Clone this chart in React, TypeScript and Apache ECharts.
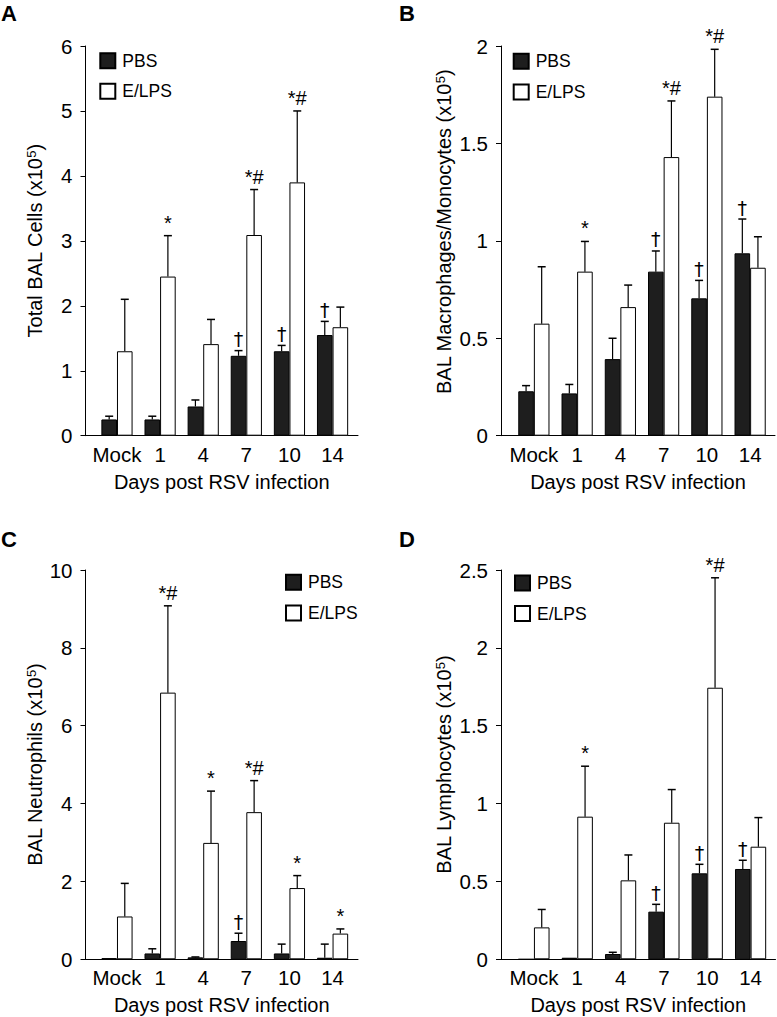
import React, { useEffect, useRef } from "react";
import * as echarts from "echarts";

// ---------- data ----------
const categories = ["Mock", "1", "4", "7", "10", "14"];
const seriesNames = ["PBS", "E/LPS"];

// A: Total BAL cells (x10^5)
const totalPBS = [0.25, 0.25, 0.45, 1.23, 1.3, 1.55];
const totalPBSErr = [0.05, 0.05, 0.1, 0.08, 0.09, 0.21];
const totalELPS = [1.3, 2.45, 1.41, 3.09, 3.9, 1.67];
const totalELPSErr = [0.8, 0.63, 0.38, 0.7, 1.1, 0.31];
const totalPBSMarks = ["", "", "", "†", "†", "†"];
const totalELPSMarks = ["", "*", "", "*#", "*#", ""];

// B: Macrophages / Monocytes (x10^5)
const macPBS = [0.228, 0.217, 0.393, 0.842, 0.705, 0.936];
const macPBSErr = [0.029, 0.046, 0.107, 0.106, 0.092, 0.176];
const macELPS = [0.575, 0.842, 0.66, 1.43, 1.74, 0.862];
const macELPSErr = [0.292, 0.155, 0.113, 0.288, 0.243, 0.159];
const macPBSMarks = ["", "", "", "†", "†", "†"];
const macELPSMarks = ["", "*", "", "*#", "*#", ""];

// C: Neutrophils (x10^5)
const neuPBS = [0.03, 0.15, 0.05, 0.47, 0.15, 0.04];
const neuPBSErr = [0, 0.12, 0.01, 0.2, 0.24, 0.35];
const neuELPS = [1.1, 6.85, 2.99, 3.78, 1.83, 0.66];
const neuELPSErr = [0.85, 2.23, 1.33, 0.81, 0.32, 0.12];
const neuPBSMarks = ["", "", "", "†", "", ""];
const neuELPSMarks = ["", "*#", "*", "*#", "*", "*"];

// D: Lymphocytes (x10^5)
const lymPBS = [0, 0.01, 0.034, 0.306, 0.552, 0.58];
const lymPBSErr = [0, 0, 0.011, 0.047, 0.058, 0.056];
const lymELPS = [0.205, 0.916, 0.507, 0.877, 1.744, 0.723];
const lymELPSErr = [0.115, 0.324, 0.163, 0.213, 0.706, 0.187];
const lymPBSMarks = ["", "", "", "†", "†", "†"];
const lymELPSMarks = ["", "*", "", "", "*#", ""];

// y-axis ticks
const totalTicks = { max: 6, interval: 1 };
const macTicks = { max: 2, interval: 0.5 };
const neuTicks = { max: 10, interval: 2 };
const lymTicks = { max: 2.5, interval: 0.5 };

const xTitle = "Days post RSV infection";

// ---------- layout / style ----------
const FONT = "'Liberation Sans', Arial, Helvetica, sans-serif";
const DAGGER_FONT = "'DejaVu Sans', 'Liberation Sans', sans-serif";
const BAR_W = 15.6;
const AXIS_FS = 20.5;
const NAME_FS = 20;

const panels = [
  {
    letter: "A", letterPos: [1, 14],
    pbs: totalPBS, pbsErr: totalPBSErr, elps: totalELPS, elpsErr: totalELPSErr,
    pbsMarks: totalPBSMarks, elpsMarks: totalELPSMarks,
    yName: "Total BAL Cells", ticks: totalTicks,
    grid: { left: 85.5, top: 46, width: 272.5, height: 389.7 },
    xMin: -0.73, xMax: 5.59, nameGap: 41, namePad: 0,
    legend: { left: 99.3, top: 51.7 },
  },
  {
    letter: "B", letterPos: [399, 14],
    pbs: macPBS, pbsErr: macPBSErr, elps: macELPS, elpsErr: macELPSErr,
    pbsMarks: macPBSMarks, elpsMarks: macELPSMarks,
    yName: "BAL Macrophages/Monocytes", ticks: macTicks,
    grid: { left: 501, top: 46, width: 274, height: 389.7 },
    xMin: -0.76, xMax: 5.575, nameGap: 47, namePad: 18,
    legend: { left: 512.7, top: 52.3 },
  },
  {
    letter: "C", letterPos: [1, 540],
    pbs: neuPBS, pbsErr: neuPBSErr, elps: neuELPS, elpsErr: neuELPSErr,
    pbsMarks: neuPBSMarks, elpsMarks: neuELPSMarks,
    yName: "BAL Neutrophils", ticks: neuTicks,
    grid: { left: 85.5, top: 570, width: 272.5, height: 389.3 },
    xMin: -0.73, xMax: 5.59, nameGap: 41, namePad: 0,
    legend: { left: 285, top: 573.3 },
  },
  {
    letter: "D", letterPos: [399, 540],
    pbs: lymPBS, pbsErr: lymPBSErr, elps: lymELPS, elpsErr: lymELPSErr,
    pbsMarks: lymPBSMarks, elpsMarks: lymELPSMarks,
    yName: "BAL Lymphocytes", ticks: lymTicks,
    grid: { left: 501, top: 570, width: 274.5, height: 389.3 },
    xMin: -0.76, xMax: 5.575, nameGap: 47, namePad: 0,
    legend: { left: 514, top: 574 },
  },
];

function errRenderer(errs: number[], marks: string[], offset: number) {
  return (params: any, api: any) => {
    const i = params.dataIndex;
    const x = api.value(0);
    const v = api.value(1);
    const e = errs[i];
    const base = api.coord([x, v]);
    const top = api.coord([x, v + e]);
    const cx = base[0] + offset;
    const children: any[] = [];
    if (e > 0) {
      children.push({
        type: "line",
        shape: { x1: cx, y1: base[1], x2: cx, y2: top[1] },
        style: { stroke: "#000", lineWidth: 1.2 },
      });
      children.push({
        type: "line",
        shape: { x1: cx - 4, y1: top[1], x2: cx + 4, y2: top[1] },
        style: { stroke: "#000", lineWidth: 1.5 },
      });
    }
    if (marks[i]) {
      const isDagger = marks[i] === "†";
      children.push({
        type: "text",
        x: cx,
        y: top[1] - (isDagger ? 2 : 3),
        style: {
          text: marks[i],
          fill: "#000",
          font: isDagger ? `19px ${DAGGER_FONT}` : `20px ${FONT}`,
          textAlign: "center",
          textVerticalAlign: "bottom",
        },
      });
    }
    return { type: "group", children };
  };
}

function buildOption() {
  const grid: any[] = [];
  const xAxis: any[] = [];
  const yAxis: any[] = [];
  const legend: any[] = [];
  const series: any[] = [];
  const graphic: any[] = [];

  panels.forEach((p, k) => {
    grid.push({ ...p.grid, containLabel: false });
    xAxis.push({
      type: "value",
      gridIndex: k,
      min: p.xMin,
      max: p.xMax,
      name: xTitle,
      nameLocation: "middle",
      nameGap: 36,
      nameTextStyle: { fontSize: NAME_FS, fontFamily: FONT, color: "#000" },
      axisLine: { show: true, onZero: false, lineStyle: { color: "#000", width: 1 } },
      axisTick: { show: false },
      splitLine: { show: false },
      axisLabel: {
        customValues: categories.map((_, i) => i),
        formatter: (v: number) => categories[Math.round(v)] ?? "",
        fontSize: AXIS_FS,
        fontFamily: FONT,
        color: "#000",
        margin: 8,
      },
    });
    yAxis.push({
      type: "value",
      gridIndex: k,
      min: 0,
      max: p.ticks.max,
      interval: p.ticks.interval,
      name: `${p.yName} (x10{sup|5})`,
      nameLocation: "middle",
      nameGap: p.nameGap,
      nameRotate: 90,
      nameTextStyle: {
        fontSize: NAME_FS,
        fontFamily: FONT,
        color: "#000",
        padding: [0, 0, 0, p.namePad],
        rich: {
          sup: { fontSize: 13, fontFamily: FONT, color: "#000", verticalAlign: "top" },
        },
      },
      axisLine: { show: true, onZero: false, lineStyle: { color: "#000", width: 1 } },
      axisTick: { show: true, length: 5, lineStyle: { color: "#000", width: 1 } },
      splitLine: { show: false },
      axisLabel: { fontSize: AXIS_FS, fontFamily: FONT, color: "#000", margin: 13 },
    });
    legend.push({
      orient: "vertical",
      left: p.legend.left,
      top: p.legend.top,
      itemWidth: 15,
      itemHeight: 15,
      itemGap: 12.6,
      icon: "rect",
      padding: 0,
      data: seriesNames,
      selectedMode: false,
      textStyle: { fontSize: 17.5, fontFamily: FONT, color: "#000", padding: [0, 0, 0, 2] },
    });
    const groups = [
      { name: seriesNames[0], vals: p.pbs, errs: p.pbsErr, marks: p.pbsMarks, color: "#1e1e1e", off: -BAR_W / 2 },
      { name: seriesNames[1], vals: p.elps, errs: p.elpsErr, marks: p.elpsMarks, color: "#ffffff", off: BAR_W / 2 },
    ];
    groups.forEach((g) => {
      series.push({
        type: "bar",
        name: g.name,
        xAxisIndex: k,
        yAxisIndex: k,
        barWidth: BAR_W,
        barGap: "0%",
        data: g.vals.map((v, i) => [i, v]),
        itemStyle: { color: g.color, borderColor: "#000", borderWidth: 1 },
        z: 2,
      });
    });
    groups.forEach((g) => {
      series.push({
        type: "custom",
        name: `${g.name} error ${p.letter}`,
        xAxisIndex: k,
        yAxisIndex: k,
        clip: false,
        z: 3,
        encode: { x: 0, y: 1 },
        data: g.vals.map((v, i) => [i, v]),
        renderItem: errRenderer(g.errs, g.marks, g.off),
      });
    });
    graphic.push({
      type: "text",
      left: p.letterPos[0],
      top: p.letterPos[1] - 12,
      style: { text: p.letter, fill: "#000", font: `bold 22px ${FONT}` },
    });
  });

  return {
    animation: false,
    backgroundColor: "#fff",
    textStyle: { fontFamily: FONT },
    grid,
    xAxis,
    yAxis,
    legend,
    series,
    graphic,
  };
}

export default function App() {
  const ref = useRef<HTMLDivElement>(null);
  useEffect(() => {
    if (!ref.current) return;
    const chart = echarts.init(ref.current, undefined, { renderer: "svg" });
    chart.setOption(buildOption() as any);
    return () => chart.dispose();
  }, []);
  return (
    <div
      ref={ref}
      style={{ position: "absolute", left: 0, top: 0, width: 777, height: 1017, background: "#fff" }}
    />
  );
}
